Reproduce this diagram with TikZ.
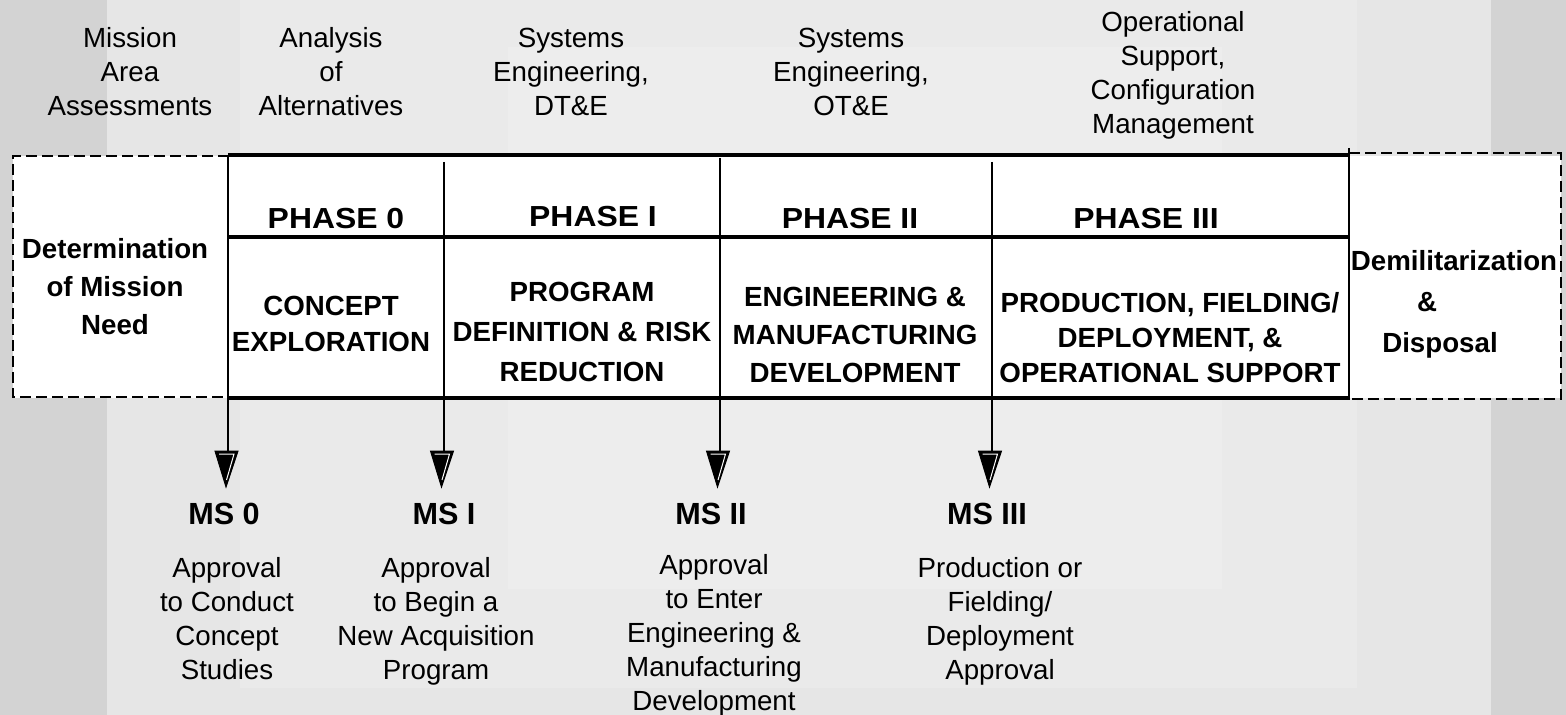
\documentclass[tikz,border=0pt]{standalone}
\usepackage{fontspec}
\setmainfont{Liberation Sans}
\definecolor{bgA}{RGB}{211,211,211}
\definecolor{bgB}{RGB}{230,230,230}
\definecolor{bgC}{RGB}{234,234,234}
\definecolor{bgD}{RGB}{237,237,237}
\begin{document}
\begin{tikzpicture}[x=0.5pt,y=-0.5pt,
  reg/.style={font=\fontsize{13.85pt}{17pt}\selectfont, align=center, inner sep=0pt},
  bldk/.style={font=\fontsize{13.85pt}{#1}\selectfont\bfseries, align=center, inner sep=0pt},
  phase/.style={font=\fontsize{14.5pt}{17pt}\selectfont\bfseries, inner sep=0pt},
  ms/.style={font=\fontsize{15.3pt}{18pt}\selectfont\bfseries, inner sep=0pt},
  heavy/.style={line width=1.6pt},
  vline/.style={line width=1pt},
  dashbox/.style={line width=1pt, dash pattern=on 5.5pt off 2.5pt},
  msarrow/.pic={
    \filldraw[black, line width=0.5pt] (-13,0) -- (10,0) -- (-2,36) -- cycle;
    \draw[white, line width=0.5pt] (-9,3) -- (6,3) -- (-1.5,29);
  }
]
\useasboundingbox (0,0) rectangle (1566,715);
% background panels
\fill[bgA] (0,0) rectangle (1566,715);
\fill[bgB] (107,0) rectangle (1491,715);
\fill[bgC] (240,0) rectangle (1357,688);
\fill[bgD] (508,47) rectangle (1222,589);

% white areas
\fill[white] (13,156) rectangle (1561,398);

% dashed side boxes
\draw[dashbox] (229,156) -- (13,156) -- (13,397) -- (229,397);
\draw[dashbox] (1349,153) -- (1561,153) -- (1561,399) -- (1349,399);

% main frame
\draw[heavy] (228,155) -- (1349,155);
\draw[heavy] (228,237) -- (1349,237);
\draw[heavy] (228,398) -- (1349,398);
\draw[vline] (1349,148) -- (1349,400);

% milestone connectors
\coordinate (t0) at (228,155);
\coordinate (t1) at (443.5,162);
\coordinate (t2) at (719.5,158);
\coordinate (t3) at (991.5,162);
\coordinate (h0) at (228,451);
\coordinate (h1) at (443.5,451);
\coordinate (h2) at (719.5,451);
\coordinate (h3) at (991.5,451);
\draw[vline] (t0) -- (h0);
\draw[vline] (t1) -- (h1);
\draw[vline] (t2) -- (h2);
\draw[vline] (t3) -- (h3);
\pic at (h0) {msarrow};
\pic at (h1) {msarrow};
\pic at (h2) {msarrow};
\pic at (h3) {msarrow};

% top labels
\node[reg] (mission) at (130,71.5) {Mission\\Area\\Assessments};
\node[reg] (aoa) at (331,71.5) {Analysis\\of\\Alternatives};
\node[reg] (sedt) at (571,72) {Systems\\Engineering,\\DT\&E};
\node[reg] (seot) at (851,72) {Systems\\Engineering,\\OT\&E};
\node[reg] (opsup) at (1173,75) {Operational\\Support,\\Configuration\\Management};

% phase headers
\node[phase] (ph0) at (336,219) {\scalebox{1.1}[1]{PHASE 0}};
\node[phase] (ph1) at (593,217) {\scalebox{1.1}[1]{PHASE I}};
\node[phase] (ph2) at (850,219) {\scalebox{1.1}[1]{PHASE II}};
\node[phase] (ph3) at (1146,219) {\scalebox{1.1}[1]{PHASE III}};

% phase contents
\node[bldk=19pt] (need) at (115,287) {Determination\\of Mission\\Need};
\node[bldk=18pt] (pb0) at (331,324) {CONCEPT\\EXPLORATION};
\node[bldk=20pt] (pb1) at (582,332) {PROGRAM\\DEFINITION \& RISK\\REDUCTION};
\node[bldk=19pt] (pb2) at (855,334.5) {ENGINEERING \&\\MANUFACTURING\\DEVELOPMENT};
\node[bldk=17.5pt] (pb3) at (1170,337.5) {PRODUCTION, FIELDING/\\DEPLOYMENT, \&\\OPERATIONAL SUPPORT};
\node[bldk=20.5pt] (demil) at (1454,304) {Demilitarization\\\hspace*{-27pt}\&\\\hspace*{-14pt}Disposal};

% milestones
\node[ms] (ms0) at (224,514) {MS 0};
\node[ms] (ms1) at (444,514) {MS I};
\node[ms] (ms2) at (711,514) {MS II};
\node[ms] (ms3) at (987,514) {MS III};

\node[reg] (a0) at (227,618.5) {Approval\\to Conduct\\Concept\\Studies};
\node[reg] (a1) at (436,621.5) {Approval\\to Begin a\\New Acquisition\\Program};
\node[reg] (a2) at (714,635) {Approval\\to Enter\\Engineering \&\\Manufacturing\\Development};
\node[reg] (a3) at (1000,621.5) {Production or\\Fielding/\\Deployment\\Approval};
\end{tikzpicture}
\end{document}
